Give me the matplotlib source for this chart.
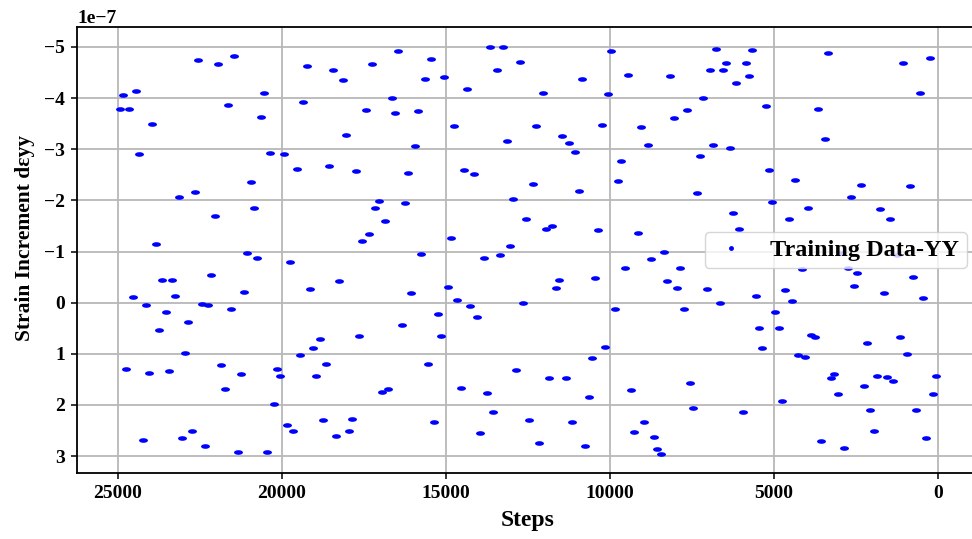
import numpy as np
import matplotlib
matplotlib.use("Agg")
import matplotlib.pyplot as plt
from matplotlib.path import Path
from matplotlib.lines import Line2D

# one value every 100 steps (units of 1e-7)
steps = np.arange(24950, 0, -100)
strain_yy = np.array([
    -3.78, -4.07, 1.29, -3.78, -0.12, -4.14, -2.90, 2.69, 0.05, 1.38,
    -3.49, -1.15, 0.53, -0.44, 0.19, 1.34, -0.44, -0.13, -2.06, 2.65,
    0.98, 0.38, 2.51, -2.16, -4.75, 0.03, 2.80, 0.05, -0.54, -1.69,
    -4.67, 1.21, 1.68, -3.86, 0.13, -4.82, 2.92, 1.40, -0.21, -0.98,
    -2.35, -1.86, -0.88, -3.63, -4.10, 2.91, -2.92, 1.99, 1.29, 1.43,
    -2.91, 2.40, -0.79, 2.50, -2.62, 1.03, -3.93, -4.62, -0.27, 0.89,
    1.43, 0.70, 2.30, 1.20, -2.68, -4.54, 2.60, -0.42, -4.35, -3.27,
    2.50, 2.28, -2.57, 0.65, -1.21, -3.76, -1.35, -4.66, -1.85, -1.99,
    1.74, -1.59, 1.69, -4.00, -3.71, -4.92, 0.43, -1.94, -2.54, -0.19,
    -3.06, -3.74, -0.96, -4.37, 1.19, -4.77, 2.34, 0.23, 0.65, -4.42,
    -0.31, -1.27, -3.45, -0.06, 1.66, -2.59, -4.18, 0.06, -2.52, 0.27,
    2.54, -0.88, 1.77, -4.99, 2.14, -4.54, -0.93, -4.99, -3.17, -1.10,
    -2.03, 1.31, -4.71, 0.00, -1.64, 2.29, -2.32, -3.45, 2.75, -4.10,
    -1.45, 1.48, -1.49, -0.29, -0.44, -3.25, 1.47, -3.12, 2.34, -2.95,
    -2.18, -4.37, 2.81, 1.85, 1.08, -0.48, -1.42, -3.48, 0.86, -4.08,
    -4.92, 0.13, -2.37, -2.77, -0.67, -4.45, 1.71, 2.53, -1.36, -3.44,
    2.34, -3.08, -0.85, 2.63, 2.87, 2.95, -1.00, -0.43, -4.44, -3.62,
    -0.29, -0.68, 0.12, -3.77, 1.57, 2.05, -2.15, -2.86, -4.00, -0.27,
    -4.54, -3.08, -4.96, 0.01, -4.55, -4.68, -3.02, -1.75, -4.29, -1.44,
    2.14, -4.68, -4.44, -4.94, -0.14, 0.49, 0.89, -3.84, -2.60, -1.97,
    0.18, 0.49, 1.93, -0.25, -1.64, -0.03, -2.39, 1.03, -0.65, 1.07,
    -1.86, 0.64, 0.67, -3.78, 2.71, -3.21, -4.88, 1.47, 1.40, 1.79,
    -0.98, 2.85, -0.67, -2.07, -0.33, -0.59, -2.30, 1.63, 0.78, 2.09,
    2.50, 1.44, -1.84, -0.18, 1.45, -1.64, 1.53, -0.94, 0.67, -4.68,
    1.01, -2.28, -0.51, 2.09, -4.10, -0.10, 2.64, -4.79, 1.79, 1.44,
]) * 1e-7

x_ticks = [25000, 20000, 15000, 10000, 5000, 0]
y_ticks = np.array([-5, -4, -3, -2, -1, 0, 1, 2, 3]) * 1e-7

plt.rcParams['font.family'] = ['Liberation Serif', 'DejaVu Serif']
plt.rcParams['font.weight'] = 'bold'
plt.rcParams['axes.labelweight'] = 'bold'

# flat ellipse marker, like the short dashes in the original
theta = np.linspace(0, 2 * np.pi, 60)
dash = Path(np.column_stack([np.cos(theta), 0.52 * np.sin(theta)]), closed=True)

fig = plt.figure(figsize=(9.72, 5.39), dpi=100)
ax = fig.add_axes([0.0792, 0.1224, 0.9277, 0.8275])

ax.plot(steps, strain_yy, ls='', marker=dash, ms=6.4, mew=0, color='blue')

ax.set_xlim(26250, -1250)
ax.set_ylim(3.33e-7, -5.39e-7)
ax.set_xticks(x_ticks)
ax.set_yticks(y_ticks)
ax.grid(True, color='#b8b8b8', lw=1.3)
ax.tick_params(labelsize=14, width=1.1, length=4.5, pad=4)
ax.yaxis.get_offset_text().set_fontsize(14)
for sp in ax.spines.values():
    sp.set_linewidth(1.3)

ax.set_xlabel('Steps', fontsize=17, labelpad=6)
ax.set_ylabel('Strain Increment dεyy', fontsize=15.5)
ax.yaxis.set_label_coords(-0.047, 0.527)

handle = Line2D([0], [0], ls='', marker='.', ms=5, color='blue')
ax.legend([handle], ['Training Data-YY'], loc='center right', fontsize=17.5,
          handlelength=1.6, borderpad=0.3)

fig.savefig('out.png', dpi=100)
